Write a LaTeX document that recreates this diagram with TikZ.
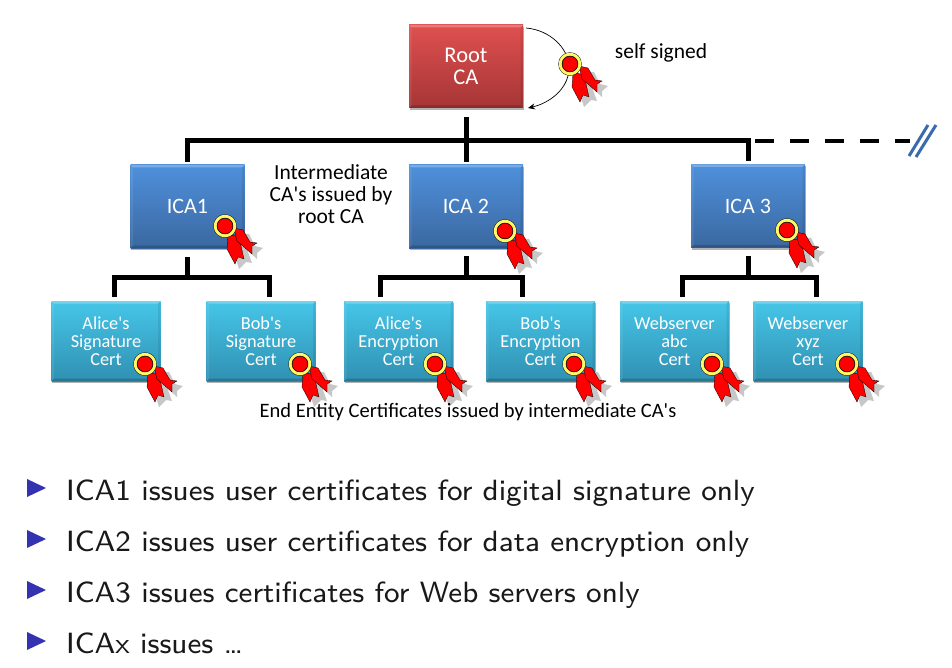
\documentclass[tikz,border=0pt]{standalone}
\usepackage{fontspec}
\setmainfont{Carlito}
\newfontfamily\itemfont{lmsans8-regular.otf}
\usetikzlibrary{shadows,arrows.meta}
\definecolor{bulletblue}{HTML}{3333B2}
\definecolor{slashblue}{HTML}{3A6BAA}
\newcommand{\qs}{\textquotesingle}
\newcommand{\bevelled}[1]{%
  \path[fill=white,fill opacity=.25] (path picture bounding box.north west) -- (path picture bounding box.north east) -- ([xshift=-#1,yshift=-#1]path picture bounding box.north east) -- ([xshift=#1,yshift=-#1]path picture bounding box.north west) -- cycle;
  \path[fill=black,fill opacity=.18] (path picture bounding box.south west) -- (path picture bounding box.south east) -- ([xshift=-#1,yshift=#1]path picture bounding box.south east) -- ([xshift=#1,yshift=#1]path picture bounding box.south west) -- cycle;
  \path[fill=black,fill opacity=.08] (path picture bounding box.north east) -- (path picture bounding box.south east) -- ([xshift=-#1,yshift=#1]path picture bounding box.south east) -- ([xshift=-#1,yshift=-#1]path picture bounding box.north east) -- cycle;
  \path[fill=white,fill opacity=.08] (path picture bounding box.north west) -- (path picture bounding box.south west) -- ([xshift=#1,yshift=#1]path picture bounding box.south west) -- ([xshift=#1,yshift=-#1]path picture bounding box.north west) -- cycle;
}
\definecolor{rootT}{HTML}{DF5050}
\definecolor{rootB}{HTML}{A63535}
\definecolor{icaT}{HTML}{4F90DC}
\definecolor{icaB}{HTML}{3A68A0}
\definecolor{leafT}{HTML}{46C6E8}
\definecolor{leafB}{HTML}{3090B2}
\tikzset{
  x=1pt,y=-1pt,
  box/.style={rectangle,inner sep=0pt,outer sep=0pt,align=center,text=white,
    drop shadow={shadow xshift=.5pt,shadow yshift=-2pt,fill=black,opacity=.3},
    path picture={\bevelled{2.5pt}}},
  rootbox/.style={box,minimum width=114pt,minimum height=83pt,top color=rootT,bottom color=rootB,font=\fontsize{22.5}{22}\selectfont},
  icabox/.style={box,minimum width=114pt,minimum height=83pt,top color=icaT,bottom color=icaB,font=\fontsize{22}{24}\selectfont},
  leafbox/.style={box,minimum width=109pt,minimum height=80pt,top color=leafT,bottom color=leafB,font=\fontsize{18.3}{18}\selectfont},
  bus/.style={line width=5pt,line cap=butt,line join=miter},
  dashbus/.style={line width=3.4pt,dash pattern=on 19pt off 16pt},
  slash/.style={line width=3pt,slashblue},
  loopline/.style={line width=.7pt,-{Stealth[length=7pt,width=6pt]}},
  note/.style={inner sep=0pt,align=center,font=\fontsize{21.5}{22}\selectfont},
  smallnote/.style={inner sep=0pt,font=\fontsize{20.5}{22}\selectfont},
  item/.style={inner sep=0pt,anchor=base west,font=\fontsize{29.3}{36}\itemfont,text=black!90},
  bullet/.style={fill=bulletblue},
  seal/.pic={
    \fill[black!22] (8,20)--(10,30)--(14,43)--(21,36)--(27,37)--(20,18)--cycle;
    \fill[black!22] (16,8)--(24,8)--(30,20)--(38,22)--(32,27)--(32,33)--(20,22)--cycle;
    \filldraw[fill=red,draw=black,line width=.3pt] (3,8)--(2,23)--(10,38)--(13,31)--(19,33)--(14,11)--cycle;
    \filldraw[fill=red,draw=black,line width=.3pt] (9,2)--(18,4)--(25,16)--(32,17)--(27,20)--(27,28)--(12,15)--cycle;
    \fill[red] (0,0) circle (9);
    \draw[draw=black,line width=4pt] (0,0) circle (9.7);
    \draw[draw=yellow!60!white,line width=3.2pt] (0,0) circle (9.7);
    \draw[draw=black,line width=.4pt] (0,0) circle (8);
  },
}
\begin{document}
\begin{tikzpicture}
\useasboundingbox (0,0) rectangle (952,668);
% boxes
\node[rootbox] (root) at (466,66.5) {Root\\CA};
\node[icabox] (ica1) at (187.5,206.5) {ICA1};
\node[icabox] (ica2) at (466,206.5) {ICA 2};
\node[icabox] (ica3) at (748,206) {ICA 3};
\node[leafbox] (l1) at (106,341) {Alice\qs s\\Signature\\Cert};
\node[leafbox] (l2) at (261,341) {Bob\qs s\\Signature\\Cert};
\node[leafbox] (l3) at (398.5,341) {Alice\qs s\\Encryption\\Cert};
\node[leafbox] (l4) at (540.5,341) {Bob\qs s\\Encryption\\Cert};
\node[leafbox] (l5) at (674.5,341) {Webserver\\abc\\Cert};
\node[leafbox] (l6) at (808,341) {Webserver\\xyz\\Cert};
% junctions
\coordinate (top) at (466,141);
\coordinate (top1) at (187.5,141);
\coordinate (top3) at (748,141);
\coordinate (dashend) at (910,141);
\coordinate (b1) at (187.5,277);
\coordinate (b1l) at (114,277);
\coordinate (b1r) at (269,277);
\coordinate (b2) at (466,277);
\coordinate (b2l) at (380,277);
\coordinate (b2r) at (522,277);
\coordinate (b3) at (748,277);
\coordinate (b3l) at (682,277);
\coordinate (b3r) at (816,277);
\coordinate (s1a) at (909,156);
\coordinate (s1b) at (928,125);
\coordinate (s2a) at (916,157);
\coordinate (s2b) at (936,125);
\coordinate (loopa) at (526,28);
\coordinate (loopb) at (528,108);
% connectors
\draw[bus,shorten <=9pt] (root.south) -- (top);
\draw[bus,line cap=rect] (top1) -- (top3);
\draw[bus,shorten >=3pt] (top1) -- (ica1.north);
\draw[bus,shorten >=3pt] (top) -- (ica2.north);
\draw[bus,shorten >=3pt] (top3) -- (ica3.north);
\draw[dashbus] ([xshift=7pt]top3) -- (dashend);
\draw[slash] (s1a) -- (s1b);
\draw[slash] (s2a) -- (s2b);
\draw[bus,shorten <=9pt] (ica1.south) -- (b1);
\draw[bus,shorten <=8pt] (ica2.south) -- (b2);
\draw[bus,shorten <=8pt] (ica3.south) -- (b3);
\draw[bus] (b1l |- l1.north) ++(0,-4) -- (b1l) -- (b1r) -- ++(0,20);
\draw[bus] (b2l |- l3.north) ++(0,-4) -- (b2l) -- (b2r) -- ++(0,20);
\draw[bus] (b3l |- l5.north) ++(0,-4) -- (b3l) -- (b3r) -- ++(0,20);
\draw[loopline] (loopa) .. controls (550,30) and (568,48) .. (569,66) .. controls (570,88) and (550,103) .. (loopb);
% seals
\foreach \sx/\sy in {570/64,225/226,505/231,787/230,145/364,300/364,435/364,574/364,712/364,847/364}
  \pic at (\sx,\sy) {seal};
% labels
\node[note] (self) at (661,53) {self signed};
\node[note] (inter) at (331,194) {Intermediate\\CA\qs s issued by\\root CA};
\node[smallnote] (ee) at (468,412) {End Entity Certificates issued by intermediate CA\qs s};
% bullets
\fill[bullet] (27,479)--(46,488)--(27,497)--cycle;
\fill[bullet] (27,530)--(46,539)--(27,548)--cycle;
\fill[bullet] (27,581)--(46,590)--(27,599)--cycle;
\fill[bullet] (27,632)--(46,641)--(27,650)--cycle;
\node[item] (i1) at (66,500) {ICA1 issues user certificates for digital signature only};
\node[item] (i2) at (66,551) {ICA2 issues user certificates for data encryption only};
\node[item] (i3) at (66,602) {ICA3 issues certificates for Web servers only};
\node[item] (i4) at (66,653) {ICAx issues \dots};
\end{tikzpicture}
\end{document}
